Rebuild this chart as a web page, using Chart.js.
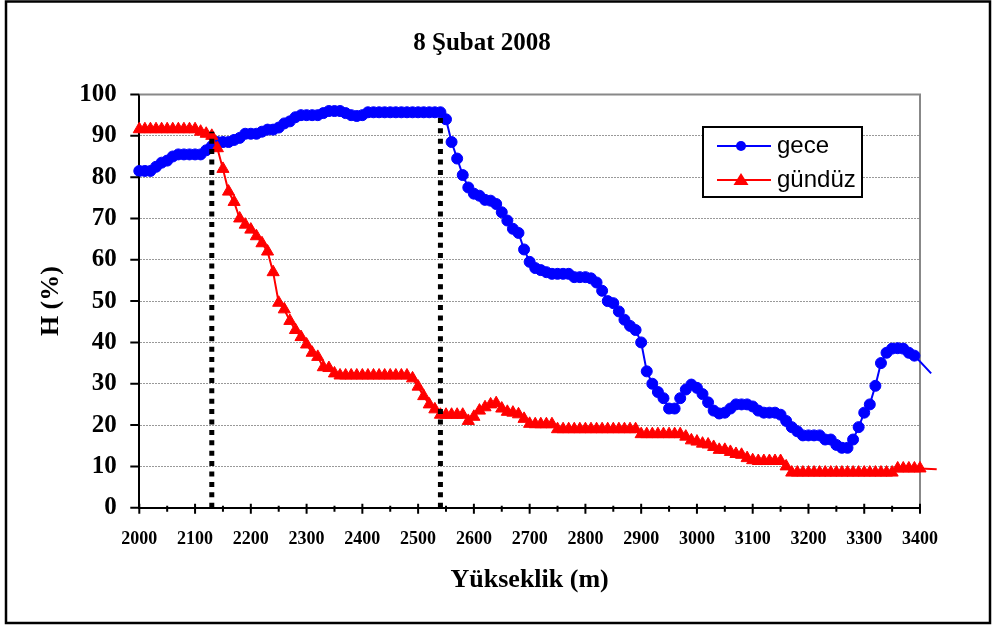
<!DOCTYPE html>
<html>
<head>
<meta charset="utf-8">
<title>8 Şubat 2008</title>
<script src="https://cdn.jsdelivr.net/npm/chart.js@4.4.1/dist/chart.umd.min.js"></script>
<style>
  html, body { margin: 0; padding: 0; background: #fff; }
  canvas { display: block; }
</style>
</head>
<body>
<canvas id="chart" width="999" height="626"></canvas>
<script>
// yükseklik (m) - her 10 m'de bir ölçüm
const altitudes = [
  2000, 2010, 2020, 2030, 2040, 2050, 2060, 2070, 2080, 2090,
  2100, 2110, 2120, 2130, 2140, 2150, 2160, 2170, 2180, 2190,
  2200, 2210, 2220, 2230, 2240, 2250, 2260, 2270, 2280, 2290,
  2300, 2310, 2320, 2330, 2340, 2350, 2360, 2370, 2380, 2390,
  2400, 2410, 2420, 2430, 2440, 2450, 2460, 2470, 2480, 2490,
  2500, 2510, 2520, 2530, 2540, 2550, 2560, 2570, 2580, 2590,
  2600, 2610, 2620, 2630, 2640, 2650, 2660, 2670, 2680, 2690,
  2700, 2710, 2720, 2730, 2740, 2750, 2760, 2770, 2780, 2790,
  2800, 2810, 2820, 2830, 2840, 2850, 2860, 2870, 2880, 2890,
  2900, 2910, 2920, 2930, 2940, 2950, 2960, 2970, 2980, 2990,
  3000, 3010, 3020, 3030, 3040, 3050, 3060, 3070, 3080, 3090,
  3100, 3110, 3120, 3130, 3140, 3150, 3160, 3170, 3180, 3190,
  3200, 3210, 3220, 3230, 3240, 3250, 3260, 3270, 3280, 3290,
  3300, 3310, 3320, 3330, 3340, 3350, 3360, 3370, 3380, 3390,
  3400, 3410, 3420, 3430
];

// gece nemi (%)
const gece = [
  81.5, 81.5, 81.5, 82.5, 83.5, 84, 85, 85.5, 85.5, 85.5,
  85.5, 85.5, 86.5, 87.5, 88.5, 88.5, 88.5, 89, 89.5, 90.5,
  90.5, 90.5, 91, 91.5, 91.5, 92, 93, 93.5, 94.5, 95,
  95, 95, 95, 95.5, 96, 96, 96, 95.5, 95, 94.8,
  95, 95.7, 95.7, 95.7, 95.7, 95.7, 95.7, 95.7, 95.7, 95.7,
  95.7, 95.7, 95.7, 95.7, 95.7, 94, 88.5, 84.5, 80.5, 77.5,
  76, 75.5, 74.5, 74.3, 73.5, 71.5, 69.5, 67.5, 66.5, 62.5,
  59.5, 58, 57.5, 57, 56.6, 56.6, 56.6, 56.6, 55.8, 55.8,
  55.8, 55.5, 54.5, 52.5, 50, 49.5, 47.5, 45.5, 44, 43,
  40, 33, 30, 28, 26.5, 24, 24, 26.5, 28.6, 29.8,
  29, 27.5, 25.5, 23.5, 22.8, 23, 24, 25, 25, 25,
  24.5, 23.5, 23, 23, 23, 22.5, 21, 19.5, 18.5, 17.5,
  17.5, 17.5, 17.5, 16.5, 16.5, 15.2, 14.5, 14.5, 16.5, 19.5,
  23, 25, 29.5, 35, 37.5, 38.5, 38.6, 38.5, 37.5, 36.8,
  null, null, 32.5, null
];

// gündüz nemi (%)
const gunduz = [
  91.6, 91.6, 91.6, 91.6, 91.6, 91.6, 91.6, 91.6, 91.6, 91.6,
  91.6, 91, 90.5, 90, 87, 82, 76.5, 74, 70, 68.5,
  67.3, 65.7, 64, 62, 57, 49.6, 48, 45.2, 43, 41.3,
  39.5, 37.5, 36.5, 34, 33.8, 32.5, 32, 32, 32, 32,
  32, 32, 32, 32, 32, 32, 32, 32, 32, 31.3,
  29.3, 27, 25, 23.8, 22.5, 22.5, 22.5, 22.5, 22.5, 21,
  22, 23.5, 24.3, 25, 25.3, 24, 23.2, 23, 22.6, 21.5,
  20.3, 20.2, 20.2, 20.2, 20.2, 19, 19, 19, 19, 19,
  19, 19, 19, 19, 19, 19, 19, 19, 19, 19,
  17.8, 17.8, 17.8, 17.8, 17.8, 17.8, 17.8, 17.8, 17.2, 16.3,
  16, 15.5, 15.3, 14.7, 14, 14, 13.5, 13, 12.8, 12,
  11.5, 11.3, 11.3, 11.3, 11.3, 11.3, 10, 8.5, 8.5, 8.5,
  8.5, 8.5, 8.5, 8.5, 8.5, 8.5, 8.5, 8.5, 8.5, 8.5,
  8.5, 8.5, 8.5, 8.5, 8.5, 8.5, 9.5, 9.5, 9.5, 9.5,
  9.5, null, null, 9.3
];

const seriesNames = ["gece", "gündüz"];
const xTicks = [2000, 2100, 2200, 2300, 2400, 2500, 2600, 2700, 2800, 2900, 3000, 3100, 3200, 3300, 3400];
const yTicks = [0, 10, 20, 30, 40, 50, 60, 70, 80, 90, 100];

// kesikli dikey çizgiler (yükseklik, üst değer)
const markerAlt = [2130, 2540];
const markerTop = [91, 95];

const chartTitle = "8 Şubat 2008";
const xTitle = "Yükseklik (m)";
const yTitle = "H (%)";

const serif = "'Liberation Serif', 'Times New Roman', serif";
const sans = "'Liberation Sans', Arial, sans-serif";

function toPoints(vals) {
    return altitudes
        .map((a, i) => ({ x: a, y: vals[i] }))
        .filter(p => p.y !== null);
}

const geceData = toPoints(gece);
const gunduzData = toPoints(gunduz);

const datasets = [];
markerAlt.forEach((a, i) => {
    datasets.push({
        label: "_marker" + i,
        data: [{ x: a, y: 0 }, { x: a, y: markerTop[i] }],
        borderColor: "#000",
        borderWidth: 5,
        borderDash: [5, 5.4],
        pointRadius: 0,
        showLine: true,
        order: 0
    });
});
datasets.push({
    label: seriesNames[1],
    data: gunduzData,
    borderColor: "#ff0000",
    backgroundColor: "#ff0000",
    borderWidth: 2,
    pointStyle: "triangle",
    // eksen dışındaki noktalarda işaret yok
    pointRadius: gunduzData.map(p => (p.x > 3400 ? 0 : 7)),
    pointBorderWidth: 1,
    showLine: true,
    clip: { left: 10, top: 10, right: 20, bottom: 10 },
    order: 1
});
datasets.push({
    label: seriesNames[0],
    data: geceData,
    borderColor: "#0000ff",
    backgroundColor: "#0000ff",
    borderWidth: 2,
    pointStyle: "circle",
    pointRadius: geceData.map(p => (p.x > 3400 ? 0 : 5.5)),
    pointBorderWidth: 1,
    showLine: true,
    clip: { left: 10, top: 10, right: 20, bottom: 10 },
    order: 2
});

// çerçeve, başlık, lejant ve tik işaretleri
const decorations = {
    id: "decorations",
    beforeDatasetsDraw(chart) {
        const { ctx, chartArea: a } = chart;
        ctx.save();
        ctx.strokeStyle = "#888";
        ctx.lineWidth = 2;
        ctx.beginPath();
        ctx.moveTo(a.left, a.top);
        ctx.lineTo(a.right, a.top);
        ctx.lineTo(a.right, a.bottom);
        ctx.stroke();
        ctx.restore();
    },
    afterDraw(chart) {
        const { ctx, chartArea: a } = chart;
        const xs = chart.scales.x, ys = chart.scales.y;
        ctx.save();

        // dış çerçeve
        ctx.strokeStyle = "#000";
        ctx.lineWidth = 2.5;
        ctx.strokeRect(6, 1.5, 984, 621.5);

        // tikler
        ctx.lineWidth = 2;
        ctx.beginPath();
        yTicks.forEach(v => {
            const y = ys.getPixelForValue(v);
            ctx.moveTo(a.left - 9, y);
            ctx.lineTo(a.left, y);
        });
        xTicks.forEach((v, i) => {
            const x = xs.getPixelForValue(v);
            ctx.moveTo(x, a.bottom - 4);
            ctx.lineTo(x, a.bottom + 6);
            if (i < xTicks.length - 1) {
                const xm = xs.getPixelForValue(v + 50);
                ctx.moveTo(xm, a.bottom - 2);
                ctx.lineTo(xm, a.bottom + 4);
            }
        });
        ctx.stroke();

        // başlık
        ctx.fillStyle = "#000";
        ctx.font = "bold 25px " + serif;
        ctx.textAlign = "center";
        ctx.textBaseline = "alphabetic";
        ctx.fillText(chartTitle, 482, 50);

        // lejant
        const bx = 703, by = 127, bw = 159, bh = 70;
        ctx.fillStyle = "#fff";
        ctx.fillRect(bx, by, bw, bh);
        ctx.strokeStyle = "#000";
        ctx.lineWidth = 2;
        ctx.strokeRect(bx, by, bw, bh);

        const rows = [
            { name: seriesNames[0], color: "#0000ff", y: 146, shape: "circle" },
            { name: seriesNames[1], color: "#ff0000", y: 180, shape: "triangle" }
        ];
        rows.forEach(r => {
            ctx.strokeStyle = r.color;
            ctx.fillStyle = r.color;
            ctx.lineWidth = 2;
            ctx.beginPath();
            ctx.moveTo(717, r.y);
            ctx.lineTo(771, r.y);
            ctx.stroke();
            ctx.beginPath();
            if (r.shape === "circle") {
                ctx.arc(741, r.y, 5, 0, Math.PI * 2);
            } else {
                ctx.moveTo(741, r.y - 7);
                ctx.lineTo(748.5, r.y + 5);
                ctx.lineTo(733.5, r.y + 5);
                ctx.closePath();
            }
            ctx.fill();
            ctx.fillStyle = "#000";
            ctx.font = "24px " + sans;
            ctx.textAlign = "left";
            ctx.textBaseline = "middle";
            ctx.fillText(r.name, 777, r.y);
        });
        ctx.restore();
    }
};

new Chart(document.getElementById("chart"), {
    type: "scatter",
    data: { datasets },
    plugins: [decorations],
    options: {
        responsive: false,
        animation: false,
        layout: { padding: { left: 0, right: 79, top: 94.5, bottom: 0 } },
        plugins: {
            legend: { display: false },
            tooltip: { enabled: false },
            title: { display: false }
        },
        scales: {
            x: {
                type: "linear",
                min: 2000,
                max: 3400.01,
                afterFit: s => { s.height = 118.3; },
                afterBuildTicks: s => { s.ticks = xTicks.map(v => ({ value: v })); },
                grid: { display: false, drawTicks: false },
                border: { display: true, color: "#000", width: 2 },
                ticks: {
                    autoSkip: false,
                    maxRotation: 0,
                    padding: 21,
                    color: "#000",
                    font: { family: serif, size: 18, weight: "bold" },
                    callback: v => String(v)
                },
                title: {
                    display: true,
                    text: xTitle,
                    color: "#000",
                    font: { family: serif, size: 26, weight: "bold" },
                    padding: { top: 0, bottom: 30 }
                }
            },
            y: {
                min: 0,
                max: 100,
                afterFit: s => { s.width = 139.3; },
                afterBuildTicks: s => { s.ticks = yTicks.map(v => ({ value: v })); },
                grid: { color: "#999", lineWidth: 1, drawTicks: false },
                border: { display: true, color: "#000", width: 2, dash: [2, 1] },
                ticks: {
                    padding: 22.6,
                    color: "#000",
                    font: { family: serif, size: 25, weight: "bold" },
                    callback: v => String(v)
                },
                title: {
                    display: true,
                    text: yTitle,
                    color: "#000",
                    font: { family: serif, size: 26, weight: "bold" },
                    padding: { top: 36, bottom: 0 }
                }
            }
        }
    }
});
</script>
</body>
</html>
